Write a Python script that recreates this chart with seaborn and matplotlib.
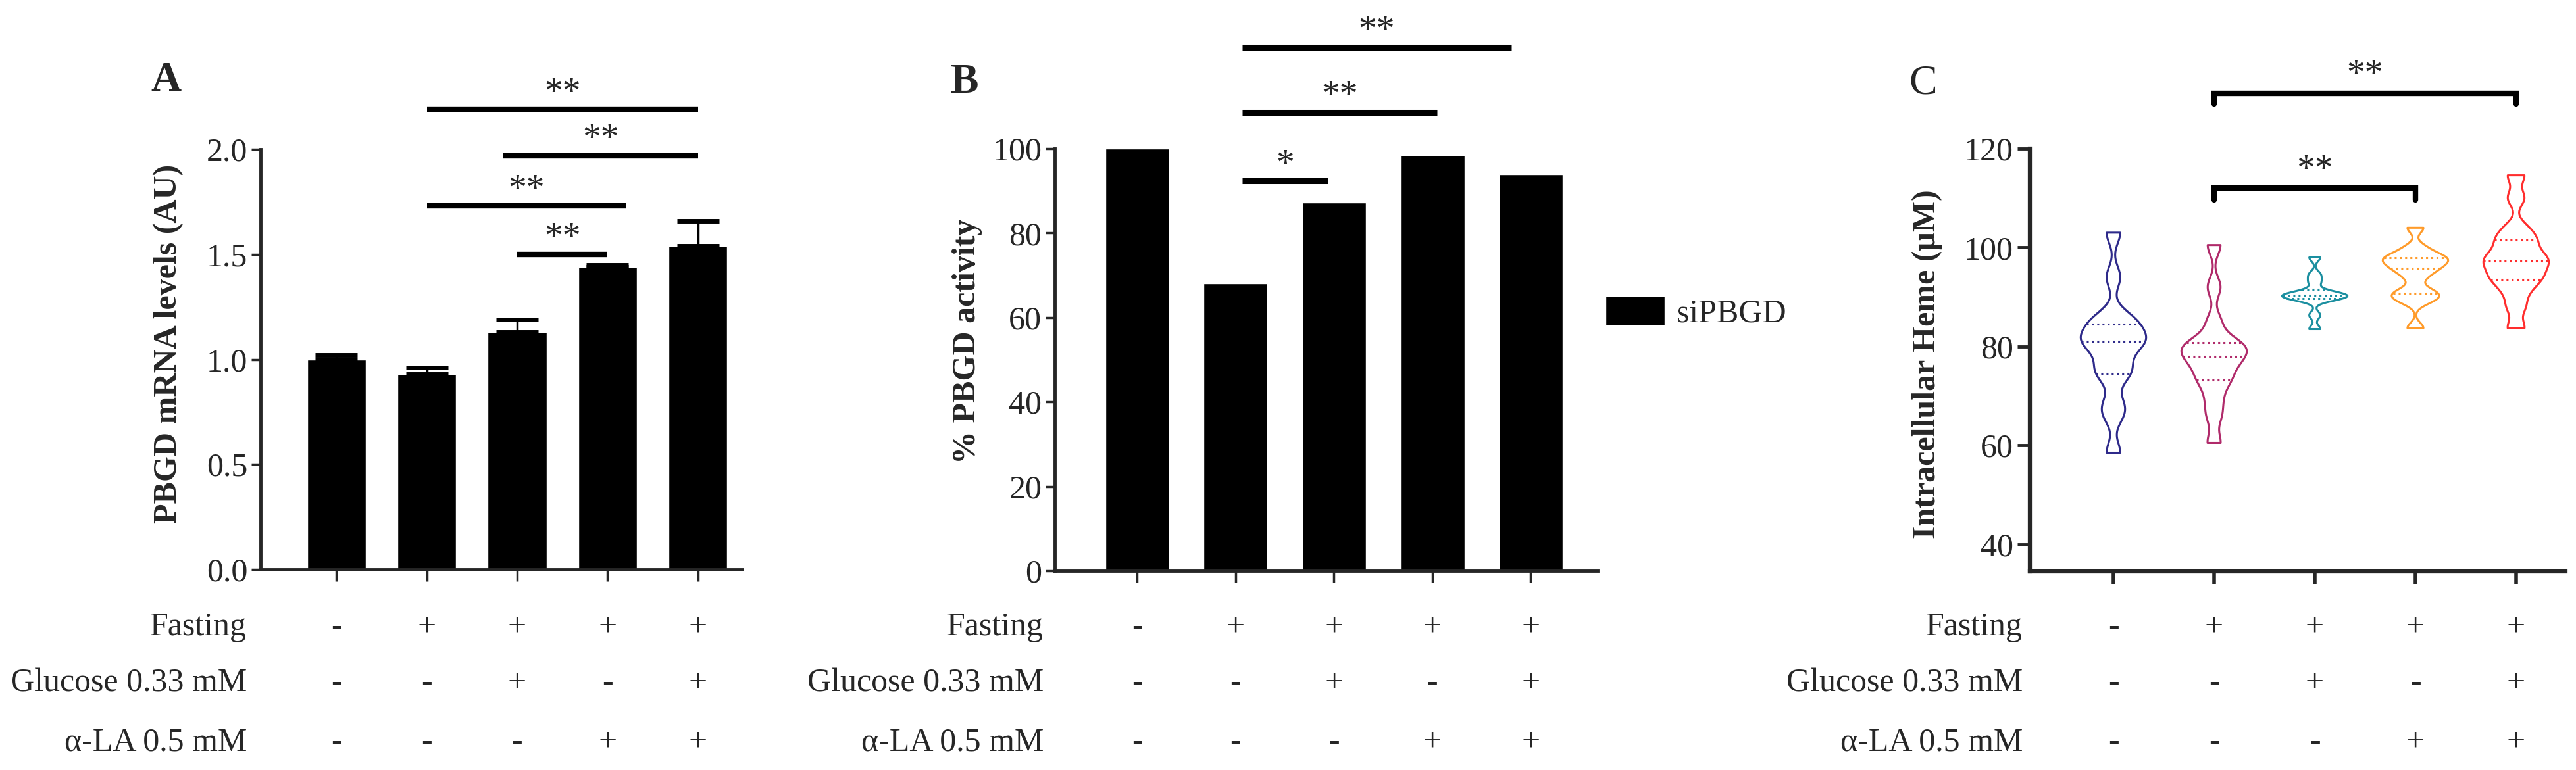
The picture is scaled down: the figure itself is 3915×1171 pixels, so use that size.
import numpy as np
import pandas as pd
import seaborn as sns
import matplotlib.pyplot as plt
from matplotlib import transforms

# ---- data ----
groups = ["G1", "G2", "G3", "G4", "G5"]
fasting = ["-", "+", "+", "+", "+"]
glucose = ["-", "-", "+", "-", "+"]
alpha_la = ["-", "-", "-", "+", "+"]
row_names = ["Fasting", "Glucose 0.33 mM", "\u03b1-LA 0.5 mM"]

# A: PBGD mRNA (mean, SEM)
mrna_mean = [1.00, 0.93, 1.13, 1.44, 1.54]
mrna_sem = [0.02, 0.03, 0.06, 0.01, 0.12]
# A significance: (x_start, x_end, y, label)
sig_a = [(1.0, 4.0, 2.19, "**"), (1.85, 4.0, 1.97, "**"),
         (1.0, 3.2, 1.73, "**"), (2.0, 3.0, 1.50, "**")]

# B: % PBGD activity
activity = [100, 68, 87.3, 98.4, 93.9]
sig_b = [(1.07, 3.80, 124.0, "**"), (1.07, 3.05, 108.6, "**"),
         (1.07, 1.94, 92.3, "*")]

# C: intracellular heme samples per group (uM)
heme_g1 = [58.5, 66, 68.5, 74, 75, 77, 80, 81, 81, 82, 84, 85, 86, 94, 103]
heme_g2 = [60.5, 66, 69.5, 73, 73.5, 76, 77, 78, 79, 80, 80.5, 81, 85, 92, 100.5]
heme_g3 = [83.5, 86.3, 89.5, 89.8, 90, 90.2, 90.4, 90.6, 91, 93, 94.5, 98]
heme_g4 = [83.7, 89, 90, 90.5, 91.5, 94, 95.5, 96, 97, 97.5, 98, 98.5, 100, 104]
heme_g5 = [83.7, 88, 91, 93, 94, 95, 96.5, 97.2, 98, 99, 101, 102, 104, 110, 114.6]
heme_colors = ["#2e2a8a", "#b02a6a", "#1b8fa0", "#ff9b2a", "#ff2d2d"]
sig_c = [(1.0, 4.0, 131.2, 129.0, "**"), (1.0, 3.0, 112.0, 109.6, "**")]

sns.set_style("ticks")
plt.rcParams["font.family"] = ["Liberation Serif", "DejaVu Serif"]
plt.rcParams["axes.linewidth"] = 3.5

FS = 36
fig = plt.figure(figsize=(39.15, 11.71), dpi=100)
ax_a = fig.add_axes([0.1011, 0.2605, 0.1870, 0.5456])
ax_b = fig.add_axes([0.4094, 0.2588, 0.2108, 0.5482])
ax_c = fig.add_axes([0.7880, 0.2579, 0.2079, 0.5491])


def style_axis(ax, xlim, ylim, yticks, lw=3.5, xtick_len=13, ytick_len=10):
    sns.despine(ax=ax)
    for s in ("left", "bottom"):
        ax.spines[s].set_linewidth(lw)
    ax.set_xlim(*xlim)
    ax.set_ylim(*ylim)
    ax.set_yticks(yticks)
    ax.set_xticks(range(5))
    ax.set_xticklabels([])
    ax.set_xlabel("")
    ax.tick_params(axis="y", length=ytick_len, width=2.5, pad=4, labelsize=FS)
    ax.tick_params(axis="x", length=xtick_len, width=2.5)


def row_labels(ax, label_x):
    trans = transforms.blended_transform_factory(ax.transData, fig.transFigure)
    for yf, name, signs in zip([0.1853, 0.1127, 0.0359], row_names,
                               [fasting, glucose, alpha_la]):
        fig.text(label_x, yf, name, ha="right", va="center", fontsize=FS)
        for i, s in enumerate(signs):
            ax.text(i, yf, s, transform=trans, ha="center", va="center", fontsize=FS)


def sig_line(ax, x0, x1, y, label, lw=6):
    ax.plot([x0, x1], [y, y], color="black", lw=lw, clip_on=False,
            solid_capstyle="butt")
    ax.annotate(label, xy=((x0 + x1) / 2, y), xytext=(0, 7),
                textcoords="offset points", ha="center", va="baseline",
                fontsize=40, annotation_clip=False)


# ---- A ----
df_a = pd.DataFrame({"group": groups, "mrna": mrna_mean})
sns.barplot(data=df_a, x="group", y="mrna", color="black", width=0.65,
            errorbar=None, ax=ax_a)
ax_a.errorbar(range(5), mrna_mean, yerr=[np.zeros(5), mrna_sem], fmt="none",
              ecolor="black", elinewidth=2.5, capsize=23, capthick=5)
style_axis(ax_a, (-0.84, 4.49), (0, 2.0), [0, 0.5, 1.0, 1.5, 2.0])
ax_a.set_yticklabels(["0.0", "0.5", "1.0", "1.5", "2.0"])
ax_a.set_ylabel("PBGD mRNA levels (AU)", fontsize=FS, fontweight="bold", va="center")
ax_a.yaxis.set_label_coords(-0.191, 0.537)
for x0, x1, y, lab in sig_a:
    sig_line(ax_a, x0, x1, y, lab)
row_labels(ax_a, 0.0958)

# ---- B ----
df_b = pd.DataFrame({"group": groups, "activity": activity})
sns.barplot(data=df_b, x="group", y="activity", color="black", width=0.65,
            errorbar=None, ax=ax_b)
style_axis(ax_b, (-0.84, 4.68), (0, 100), [0, 20, 40, 60, 80, 100])
ax_b.set_ylabel("% PBGD activity", fontsize=FS, fontweight="bold", va="center")
ax_b.yaxis.set_label_coords(-0.161, 0.544)
for x0, x1, y, lab in sig_b:
    sig_line(ax_b, x0, x1, y, lab, lw=6.5)
ax_b.legend([ax_b.containers[0]], ["siPBGD"], loc="center left",
            bbox_to_anchor=(1.015, 0.612), frameon=False, fontsize=FS,
            handlelength=1.8, handleheight=1.0, handletextpad=0.35,
            borderpad=0, borderaxespad=0)
row_labels(ax_b, 0.4051)

# ---- C ----
df_c = pd.DataFrame({
    "group": np.repeat(groups, [len(heme_g1), len(heme_g2), len(heme_g3),
                                len(heme_g4), len(heme_g5)]),
    "heme": heme_g1 + heme_g2 + heme_g3 + heme_g4 + heme_g5,
})
sns.violinplot(data=df_c, x="group", y="heme", hue="group", palette=heme_colors,
               fill=False, inner="quart", cut=0, bw_adjust=0.35,
               density_norm="width", width=0.65, linewidth=2.2,
               inner_kws=dict(dashes=(1, 1.6), linewidth=2.2),
               legend=False, ax=ax_c)
style_axis(ax_c, (-0.83, 4.49), (34.5, 120), [40, 60, 80, 100, 120],
           lw=4.5, xtick_len=14, ytick_len=14)
ax_c.tick_params(axis="x", width=4)
ax_c.tick_params(axis="y", width=3.5)
ax_c.set_ylabel("Intracellular Heme (\u03bcM)", fontsize=FS, fontweight="bold",
                va="center")
ax_c.yaxis.set_label_coords(-0.192, 0.49)
for x0, x1, y, tip, lab in sig_c:
    ax_c.plot([x0, x0, x1, x1], [tip, y, y, tip], color="black", lw=6,
              clip_on=False, solid_joinstyle="miter")
    ax_c.annotate(lab, xy=((x0 + x1) / 2, y), xytext=(0, 9),
                  textcoords="offset points", ha="center", va="baseline",
                  fontsize=40, annotation_clip=False)
row_labels(ax_c, 0.7852)

# panel letters
fig.text(0.0644, 0.895, "A", fontsize=46, fontweight="bold", ha="center", va="center")
fig.text(0.3745, 0.892, "B", fontsize=46, fontweight="bold", ha="center", va="center")
fig.text(0.7466, 0.891, "C", fontsize=46, ha="center", va="center")

plt.savefig("out.png", dpi=100)
